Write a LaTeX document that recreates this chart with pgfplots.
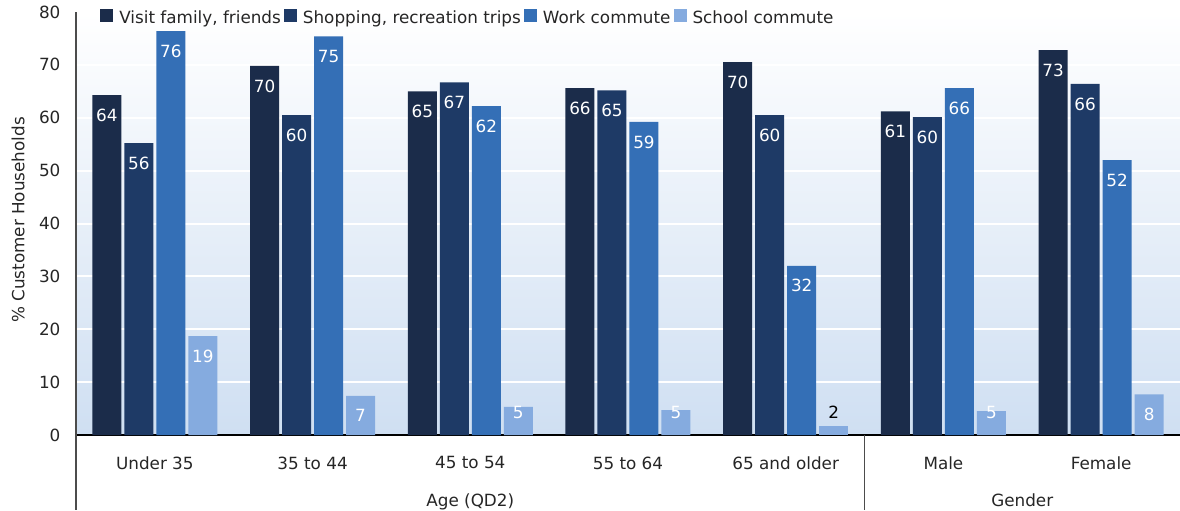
\documentclass[border=0pt]{standalone}
\usepackage{pgfplots}
\pgfplotsset{compat=1.18}
\usepackage{fontspec}
\setmainfont{DejaVu Sans}
\definecolor{cVisit}{RGB}{27,44,74}
\definecolor{cShop}{RGB}{30,58,102}
\definecolor{cWork}{RGB}{52,111,182}
\definecolor{cSchool}{RGB}{133,171,223}
\definecolor{bgBot}{RGB}{207,223,242}
\begin{document}
\begin{tikzpicture}[font=\fontsize{8.4}{10}\selectfont]
\begin{axis}[
  scale only axis, width=552pt, height=211.5pt,
  at={(0,0)}, anchor=south west,
  ybar, bar width=14.5pt,
  xmin=-0.5, xmax=6.5, ymin=0, ymax=80,
  ytick={0,10,...,80},
  xtick={0,...,6},
  xticklabels={Under 35,35 to 44,45 to 54,55 to 64,65 and older,Male,Female},
  major tick length=0pt,
  axis lines*=left,
  x axis line style={black, line width=0.6pt},
  y axis line style={black!70, line width=0.6pt},
  ymajorgrids, grid style={white, line width=1pt},
  axis background/.style={shade, top color=white, bottom color=bgBot},
  /pgf/number format/assume math mode=true,
  tick label style={font=\fontsize{8.4}{10}\selectfont, text=black!85},
  yticklabel style={xshift=-4.25pt},
  xticklabel style={yshift=-7.3pt},
  clip=false,
  point meta=explicit symbolic,
  nodes near coords,
  every node near coord/.append style={anchor=north, yshift=-3.3pt, text=white, font=\fontsize{8.4}{10}\selectfont},
  legend columns=-1,
  legend style={at={(axis description cs:0.0217,0.986)}, anchor=west, draw=none, fill=none, inner sep=0pt, font=\fontsize{8.4}{10}\selectfont, text=black!85, nodes={inner sep=0pt}, column sep=0pt, /tikz/every even column/.append style={column sep=1.5pt}, /tikz/every odd column/.append style={column sep=3pt}},
  legend image code/.code={\fill[#1] (0pt,-1.5pt) rectangle (6.5pt,5pt);},
]
\addplot[fill=cVisit, draw=none, bar shift=-24pt] coordinates {(0,64.3)[64] (1,69.8)[70] (2,65)[65] (3,65.6)[66] (4,70.5)[70] (5,61.2)[61] (6,72.8)[73]};
\addlegendentry{Visit family, friends}
\addplot[fill=cShop, draw=none, bar shift=-8pt] coordinates {(0,55.2)[56] (1,60.5)[60] (2,66.7)[67] (3,65.2)[65] (4,60.5)[60] (5,60.1)[60] (6,66.4)[66]};
\addlegendentry{Shopping, recreation trips}
\addplot[fill=cWork, draw=none, bar shift=8pt] coordinates {(0,76.4)[76] (1,75.4)[75] (2,62.2)[62] (3,59.2)[59] (4,32)[32] (5,65.6)[66] (6,52)[52]};
\addlegendentry{Work commute}
\addplot[fill=cSchool, draw=none, bar shift=24pt] coordinates {(0,18.7)[19] (1,7.4)[7] (6,7.7)[8]};
\addlegendentry{School commute}
% short school bars (labels placed separately)
\addplot[fill=cSchool, draw=none, bar shift=24pt, forget plot, nodes near coords={}] coordinates {(2,5.3)[] (3,4.7)[] (5,4.5)[]};
\addplot[draw=none, fill=none, bar shift=24pt, forget plot, every node near coord/.append style={anchor=south, yshift=7.8pt}] coordinates {(2,0)[5] (3,0)[5] (5,0)[5]};
\addplot[fill=cSchool, draw=none, bar shift=24pt, forget plot, every node near coord/.append style={anchor=south, yshift=3.6pt, text=black}] coordinates {(4,1.7)[2]};
\draw[black!70, line width=0.6pt] (axis cs:-0.5,0) -- ([yshift=-37.5pt]axis cs:-0.5,0);
\draw[black!70, line width=0.6pt] (axis cs:4.5,0) -- ([yshift=-37.5pt]axis cs:4.5,0);
\node[anchor=north, text=black!85, yshift=-25.8pt] at (axis cs:2,0) {Age (QD2)};
\node[anchor=north, text=black!85, yshift=-25.8pt] at (axis cs:5.5,0) {Gender};
\end{axis}
\node[rotate=90, text=black!85] at (-29pt,107.5pt) {\% Customer Households};
\pgfresetboundingbox
\path[use as bounding box] (-38pt,-37.5pt) rectangle (552pt,217.5pt);
\end{tikzpicture}
\end{document}
